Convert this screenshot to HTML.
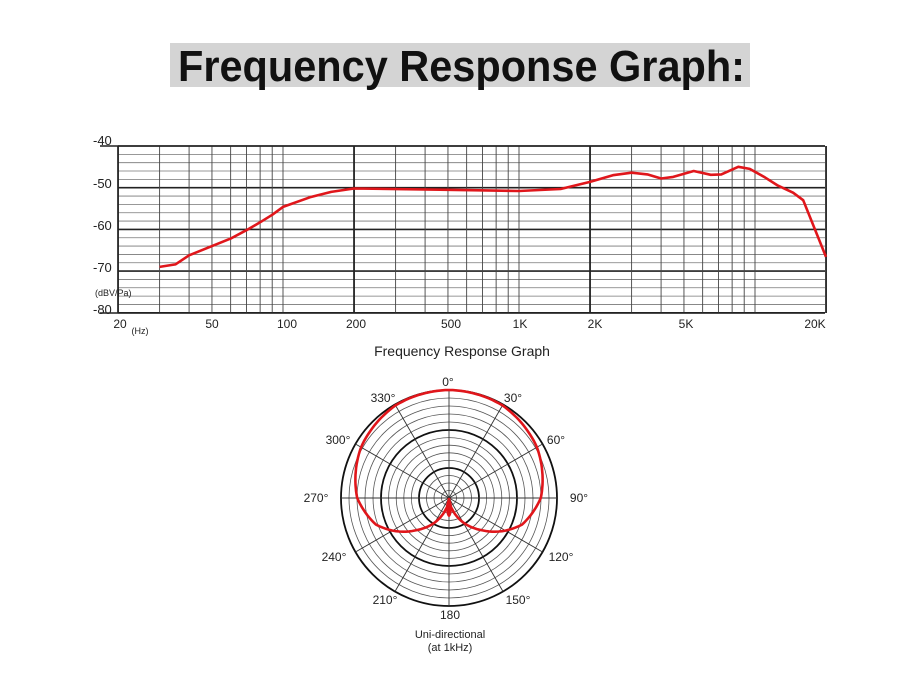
<!DOCTYPE html>
<html><head><meta charset="utf-8"><style>
body{margin:0;background:#fff;width:900px;height:675px;overflow:hidden}
svg{display:block}
text{font-family:"Liberation Sans",Arial,sans-serif;fill:#222}
</style></head><body>
<svg id="s" width="900" height="675" viewBox="0 0 900 675">
<rect x="170" y="43" width="580" height="44" fill="#d4d4d4"/>
<text x="178" y="81" font-size="44" font-weight="bold" textLength="567" lengthAdjust="spacingAndGlyphs" style="fill:#111">Frequency Response Graph:</text>
<g id="grid"></g>
<g font-size="13">
<text x="93" y="145">-40</text><text x="93" y="188">-50</text><text x="93" y="230">-60</text><text x="93" y="272">-70</text><text x="93" y="314">-80</text>
</g>
<text x="95" y="296" font-size="9">(dBV/Pa)</text>
<g font-size="12" text-anchor="middle">
<text x="120" y="328">20</text><text x="212" y="328">50</text><text x="287" y="328">100</text><text x="356" y="328">200</text><text x="451" y="328">500</text><text x="520" y="328">1K</text><text x="595" y="328">2K</text><text x="686" y="328">5K</text><text x="815" y="328">20K</text>
</g>
<text x="140" y="334" font-size="9" text-anchor="middle">(Hz)</text>
<text x="462" y="356" font-size="14" text-anchor="middle">Frequency Response Graph</text>
<g id="polar"></g>
<g font-size="12" text-anchor="middle">
<text x="448" y="386">0°</text><text x="513" y="402">30°</text><text x="556" y="444">60°</text><text x="579" y="502">90°</text><text x="561" y="561">120°</text><text x="518" y="604">150°</text><text x="450" y="619">180</text><text x="385" y="604">210°</text><text x="334" y="561">240°</text><text x="316" y="502">270°</text><text x="338" y="444">300°</text><text x="383" y="402">330°</text>
</g>
<text x="450" y="638" font-size="11" text-anchor="middle">Uni-directional</text>
<text x="450" y="651" font-size="11" text-anchor="middle">(at 1kHz)</text>
</svg>
<script>
const NS="http://www.w3.org/2000/svg";
function el(p,t,a){const e=document.createElementNS(NS,t);for(const k in a)e.setAttribute(k,a[k]);p.appendChild(e);return e;}
const g=document.getElementById('grid');
const X=f=>519+236*Math.log10(f/1000), Y=d=>146+(-40-d)*4.17;
for(let d=-40;d>=-80;d-=2){const th=d%10==0;el(g,'line',{x1:118,x2:825,y1:Y(d),y2:Y(d),stroke:th?'#222':'#777','stroke-width':th?1.6:0.8});}
[20,200,2000,20000].forEach(f=>el(g,'line',{x1:X(f),x2:X(f),y1:146,y2:313,stroke:'#222','stroke-width':1.8}));
[30,40,50,60,70,80,90,100,300,400,500,600,700,800,900,1000,3000,4000,5000,6000,7000,8000,9000,10000].forEach(f=>el(g,'line',{x1:X(f),x2:X(f),y1:146,y2:313,stroke:'#444','stroke-width':0.9}));
el(g,'line',{x1:100,x2:825,y1:146,y2:146,stroke:'#222','stroke-width':1.6});
el(g,'line',{x1:100,x2:825,y1:313,y2:313,stroke:'#222','stroke-width':1.6});
const pts=[[30,-69],[35,-68.4],[40,-66.2],[50,-64],[60,-62.2],[70,-60.2],[80,-58.3],[90,-56.5],[100,-54.6],[130,-52.3],[160,-51],[200,-50.2],[500,-50.5],[1000,-50.8],[1500,-50.3],[2000,-48.6],[2500,-47],[3000,-46.4],[3500,-46.8],[4000,-47.8],[4500,-47.4],[5500,-46],[6500,-46.9],[7200,-46.8],[8500,-45],[9500,-45.5],[11000,-47.5],[12500,-49.5],[14500,-51.2],[16000,-53],[20000,-66.6]];
let d='';pts.forEach((p,i)=>{d+=(i?'L':'M')+X(p[0]).toFixed(1)+','+Y(p[1]).toFixed(1);});
el(g,'path',{d:d,fill:'none',stroke:'#e0161b','stroke-width':2.6,'stroke-linejoin':'round'});
// polar
const P=document.getElementById('polar');const cx=449,cy=498,R=108;
[7.5,15,22.5,30,37.6,45.2,52.8,60.4,68,76,84,92,100,108].forEach(r=>{const th=(r==30||r==68||r==108);el(P,'circle',{cx:cx,cy:cy,r:r,fill:'none',stroke:th?'#111':'#555','stroke-width':th?1.8:0.8});});
for(let a=0;a<360;a+=30){const t=a*Math.PI/180;el(P,'line',{x1:cx,y1:cy,x2:cx+R*Math.sin(t),y2:cy-R*Math.cos(t),stroke:'#333','stroke-width':0.9});}
const pr=[[0,1],[30,0.99],[60,0.94],[90,0.85],[110,0.72],[122,0.58],[135,0.42],[150,0.26],[165,0.1],[180,0]];
function rr(a){a=Math.abs(a);for(let i=1;i<pr.length;i++){if(a<=pr[i][0]){const [a0,r0]=pr[i-1],[a1,r1]=pr[i];return r0+(r1-r0)*(a-a0)/(a1-a0);}}return 0;}
let pd='';for(let a=-180;a<=180;a+=2){const t=a*Math.PI/180,r=R*rr(a);pd+=(a==-180?'M':'L')+(cx+r*Math.sin(t)).toFixed(1)+','+(cy-r*Math.cos(t)).toFixed(1);}
el(P,'path',{d:pd+'Z',fill:'none',stroke:'#e0161b','stroke-width':2.6});
el(P,'ellipse',{cx:cx,cy:cy+10,rx:3,ry:9,fill:'#e0161b'});
</script>
</body></html>
